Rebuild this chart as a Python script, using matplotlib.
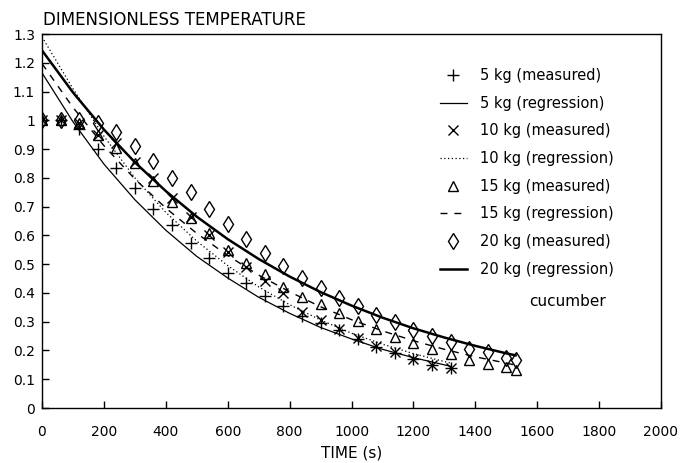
import matplotlib
matplotlib.use('Agg')
from matplotlib import pyplot as plt

plt.rcParams['font.family'] = ['DejaVu Sans']

# measured points (time in s, dimensionless temperature)
t_5 = [0, 60, 120, 180, 240, 300, 360, 420, 480, 540, 600, 660, 720, 780,
       840, 900, 960, 1020, 1080, 1140, 1200, 1260, 1320]
y_5 = [1.0, 1.0, 0.97, 0.90, 0.835, 0.765, 0.69, 0.635, 0.572, 0.52, 0.468,
       0.433, 0.39, 0.355, 0.32, 0.297, 0.271, 0.24, 0.213, 0.19, 0.17,
       0.148, 0.138]

t_10 = t_5
y_10 = [1.0, 1.0, 0.99, 0.95, 0.92, 0.855, 0.80, 0.73, 0.664, 0.60, 0.543,
        0.49, 0.44, 0.40, 0.334, 0.306, 0.275, 0.245, 0.217, 0.193, 0.172,
        0.15, 0.14]

t_15 = [0, 60, 120, 180, 240, 300, 360, 420, 480, 540, 600, 660, 720, 780,
        840, 900, 960, 1020, 1080, 1140, 1200, 1260, 1320, 1380, 1440, 1500,
        1530]
y_15 = [1.0, 1.0, 0.99, 0.95, 0.905, 0.85, 0.79, 0.715, 0.66, 0.61, 0.55,
        0.505, 0.465, 0.42, 0.387, 0.36, 0.331, 0.302, 0.273, 0.248, 0.227,
        0.205, 0.186, 0.168, 0.153, 0.143, 0.132]

t_20 = t_15
y_20 = [1.0, 1.0, 1.0, 0.99, 0.96, 0.91, 0.86, 0.80, 0.75, 0.69, 0.64,
        0.588, 0.539, 0.495, 0.453, 0.417, 0.384, 0.354, 0.325, 0.30, 0.271,
        0.25, 0.228, 0.206, 0.195, 0.173, 0.167]

# regression curves
rt_5 = [0, 100, 200, 300, 400, 500, 600, 700, 800, 900, 1000, 1100, 1200, 1320]
ry_5 = [1.165, 0.995, 0.848, 0.724, 0.618, 0.527, 0.452, 0.385, 0.329, 0.280,
        0.240, 0.204, 0.175, 0.145]
rt_10 = rt_5
ry_10 = [1.29, 1.11, 0.945, 0.80, 0.68, 0.58, 0.495, 0.421, 0.359, 0.306,
         0.260, 0.222, 0.189, 0.156]
rt_15 = [0, 100, 200, 300, 400, 500, 600, 700, 800, 900, 1000, 1100, 1200,
         1300, 1400, 1500, 1530]
ry_15 = [1.197, 1.045, 0.912, 0.796, 0.695, 0.607, 0.530, 0.462, 0.404, 0.352,
         0.307, 0.268, 0.234, 0.204, 0.178, 0.156, 0.149]
rt_20 = rt_15
ry_20 = [1.243, 1.097, 0.968, 0.854, 0.754, 0.665, 0.587, 0.518, 0.457, 0.403,
         0.356, 0.314, 0.277, 0.245, 0.216, 0.19, 0.183]

x_ticks = list(range(0, 2001, 200))
y_ticks = [0, 0.1, 0.2, 0.3, 0.4, 0.5, 0.6, 0.7, 0.8, 0.9, 1, 1.1, 1.2, 1.3]
y_ticklabels = ['0', '0.1', '0.2', '0.3', '0.4', '0.5', '0.6', '0.7', '0.8',
                '0.9', '1', '1.1', '1.2', '1.3']

W, H = 684, 463
fig = plt.figure(figsize=(W / 100, H / 100), dpi=100)
ax = fig.add_axes([42 / W, 1 - 408 / H, 619 / W, 374 / H])

k = 'black'
mk = dict(linestyle='none', color=k, markerfacecolor='none', markeredgewidth=1.0)
ax.plot(t_5, y_5, marker='+', markersize=8.5, label='5 kg (measured)', **mk)
ax.plot(rt_5, ry_5, '-', color=k, lw=0.9, label='5 kg (regression)')
ax.plot(t_10, y_10, marker='x', markersize=6.5, label='10 kg (measured)', **mk)
ax.plot(rt_10, ry_10, color=k, lw=0.9, linestyle=(0, (1, 2)), label='10 kg (regression)')
ax.plot(t_15, y_15, marker='^', markersize=6.5, label='15 kg (measured)', **mk)
ax.plot(rt_15, ry_15, color=k, lw=1.0, linestyle=(0, (5, 5)), label='15 kg (regression)')
ax.plot(t_20, y_20, marker='d', markersize=8, label='20 kg (measured)', **mk)
ax.plot(rt_20, ry_20, '-', color=k, lw=1.8, label='20 kg (regression)')

ax.set_xlim(0, 2000)
ax.set_ylim(0, 1.3)
ax.set_xticks(x_ticks)
ax.set_xticklabels([str(v) for v in x_ticks])
ax.set_yticks(y_ticks)
ax.set_yticklabels(y_ticklabels)
ax.tick_params(direction='in', length=5, width=1, labelsize=10, colors=k)
ax.tick_params(axis='x', pad=12)
ax.tick_params(axis='y', pad=5)
for s in ax.spines.values():
    s.set_linewidth(1.0)
ax.set_xlabel('TIME (s)', fontsize=11, labelpad=5)

fig.text(43 / W, 1 - 20 / H, 'DIMENSIONLESS TEMPERATURE', fontsize=12,
         ha='left', va='center')

leg = ax.legend(loc='upper left', bbox_to_anchor=(440 / W, 1 - 68 / H),
                bbox_transform=fig.transFigure, frameon=False,
                fontsize=10.5, handlelength=1.85, handletextpad=0.9,
                labelspacing=0.87, borderpad=0, borderaxespad=0)
fig.text(567 / W, 1 - 302 / H, 'cucumber', fontsize=11, ha='center', va='center')

fig.savefig('out.png', dpi=100)
